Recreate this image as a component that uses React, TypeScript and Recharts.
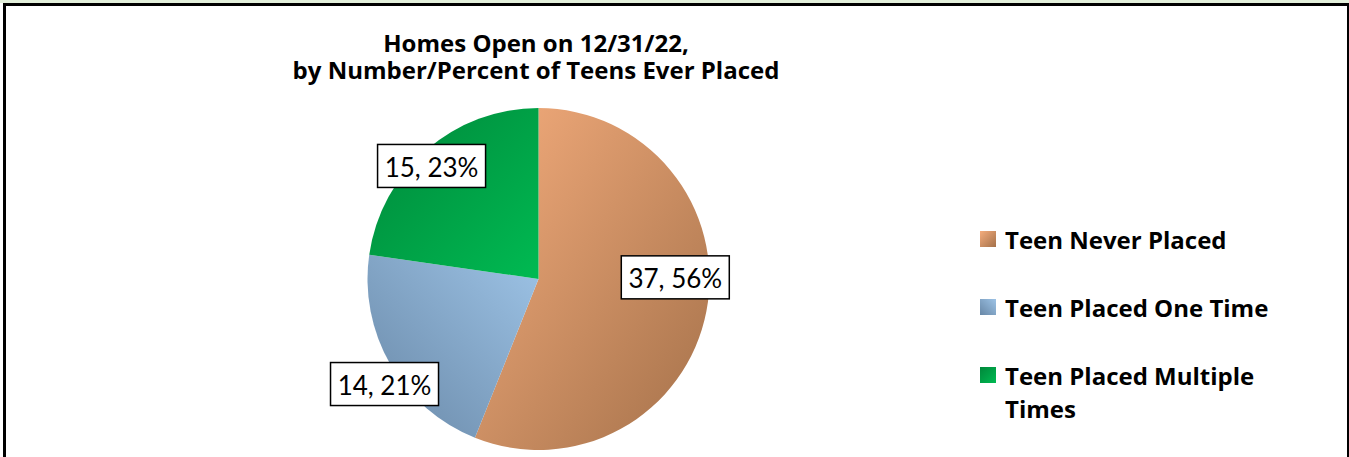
import { Cell, Legend, Pie, PieChart } from 'recharts';

// Homes open on 12/31/22 split by how often a teen was placed there
const categories = ['Teen Never Placed', 'Teen Placed One Time', 'Teen Placed Multiple Times'];
const homeCounts = [37, 14, 15];
const titleLines = ['Homes Open on 12/31/22,', 'by Number/Percent of Teens Ever Placed'];

// gradient stops per slice (light/dark) and diagonal direction
const SLICE_GRADIENTS = [
  { id: 'gradNever', from: '#F4AC7C', to: '#A4714A', x1: 0, y1: 0, x2: 1, y2: 1 },
  { id: 'gradOnce', from: '#9DC3E6', to: '#6887A6', x1: 1, y1: 0, x2: 0, y2: 1 },
  { id: 'gradMulti', from: '#00873A', to: '#00BA52', x1: 0, y1: 0, x2: 1, y2: 1 },
];

// Excel "best fit" label placement: radius factor and small turn (deg) from the mid angle
const LABEL_PLACEMENT = [
  { r: 0.8, turn: 11.6 },
  { r: 1.09, turn: 4.3 },
  { r: 0.91, turn: 2.5 },
];

const RADIAN = Math.PI / 180;
const FONT = 'Lato, "Open Sans", sans-serif';
const BOLD_FONT = '"Open Sans", Lato, sans-serif';

const chartData = categories.map((name, i) => ({ name, value: homeCounts[i] }));

function renderLabel(props: any) {
  const { cx, cy, midAngle, outerRadius, index, value, percent } = props;
  const place = LABEL_PLACEMENT[index] ?? { r: 0.8, turn: 0 };
  const angle = (midAngle + place.turn) * RADIAN;
  const x = cx + outerRadius * place.r * Math.cos(-angle);
  const y = cy + outerRadius * place.r * Math.sin(-angle);
  const boxW = 108;
  const boxH = 43;
  return (
    <g>
      <rect
        x={x - boxW / 2}
        y={y - boxH / 2}
        width={boxW}
        height={boxH}
        fill="#fff"
        stroke="#000"
        strokeWidth={1.5}
      />
      <text
        x={x}
        y={y + 1}
        textAnchor="middle"
        dominantBaseline="central"
        fontFamily={FONT}
        fontSize={26}
        fill="#000"
      >
        {`${value}, ${Math.round(percent * 100)}%`}
      </text>
    </g>
  );
}

function LegendList() {
  return (
    <div style={{ fontFamily: BOLD_FONT, fontWeight: 700, fontSize: 24, color: '#000' }}>
      {categories.map((name, i) => {
        const g = SLICE_GRADIENTS[i];
        const dir = g.x1 === 0 ? '135deg' : '225deg';
        return (
          <div
            key={name}
            style={{ display: 'flex', alignItems: 'flex-start', marginBottom: 35 }}
          >
            <span
              style={{
                flex: 'none',
                width: 16,
                height: 16,
                marginTop: 8,
                marginRight: 9,
                background: `linear-gradient(${dir}, ${g.from}, ${g.to})`,
              }}
            />
            <span style={{ lineHeight: '33px', width: 300 }}>{name}</span>
          </div>
        );
      })}
    </div>
  );
}

export default function App() {
  return (
    <div
      style={{
        position: 'absolute',
        left: 0,
        top: 0,
        width: 1349,
        height: 457,
        background: '#fff',
        overflow: 'hidden',
      }}
    >
      <div style={{ position: 'absolute', left: 0, top: 0, width: 1349, height: 3, background: '#E2EFDA' }} />
      <div
        style={{
          position: 'absolute',
          left: 3,
          top: 3,
          width: 1341,
          height: 460,
          borderTop: '3px solid #000',
          borderLeft: '3px solid #000',
          borderRight: '2px solid #000',
        }}
      />
      <div
        style={{
          position: 'absolute',
          left: 186,
          top: 29,
          width: 700,
          textAlign: 'center',
          fontFamily: BOLD_FONT,
          fontWeight: 700,
          fontSize: 24,
          color: '#000',
        }}
      >
        {titleLines.map((line) => (
          <div key={line} style={{ height: 27, lineHeight: '27px', overflow: 'visible' }}>
            {line}
          </div>
        ))}
      </div>
      <div style={{ position: 'absolute', left: 0, top: 0 }}>
        <PieChart width={1349} height={457} margin={{ top: 0, right: 0, bottom: 0, left: 0 }}>
          <defs>
            {SLICE_GRADIENTS.map((g) => (
              <linearGradient key={g.id} id={g.id} x1={g.x1} y1={g.y1} x2={g.x2} y2={g.y2}>
                <stop offset="0%" stopColor={g.from} />
                <stop offset="100%" stopColor={g.to} />
              </linearGradient>
            ))}
          </defs>
          <Pie
            data={chartData}
            dataKey="value"
            nameKey="name"
            cx={538.5}
            cy={279}
            outerRadius={171}
            startAngle={90}
            endAngle={-270}
            stroke="none"
            label={renderLabel}
            labelLine={false}
            isAnimationActive={false}
          >
            {chartData.map((entry, i) => (
              <Cell key={entry.name} fill={`url(#${SLICE_GRADIENTS[i].id})`} />
            ))}
          </Pie>
          <Legend
            content={() => <LegendList />}
            wrapperStyle={{ left: 980, top: 223, width: 345 }}
          />
        </PieChart>
      </div>
    </div>
  );
}
